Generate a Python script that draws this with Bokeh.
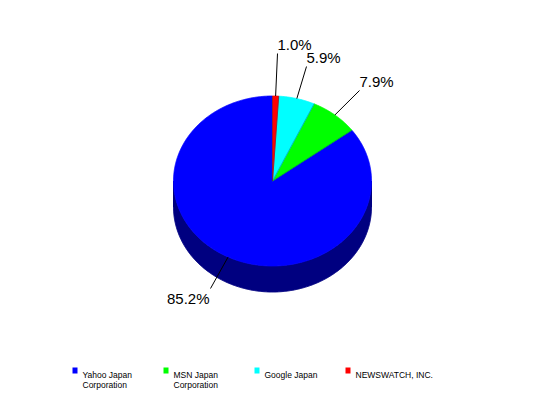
import math

from bokeh.core.properties import value
from bokeh.embed import file_html
from bokeh.models import Range1d
from bokeh.plotting import figure
from bokeh.resources import INLINE

# Market share of Japanese web portals (percent)
companies = ["Yahoo Japan\nCorporation", "MSN Japan\nCorporation", "Google Japan", "NEWSWATCH, INC."]
shares = [85.2, 7.9, 5.9, 1.0]
top_colors = ["#0000FF", "#00FF00", "#00FFFF", "#FF0000"]
side_colors = ["#000080", "#008000", "#008080", "#800000"]

# Geometry of the tilted pie (pixel space, y grows downward)
CX, CY = 272.0, 180.5
RX, RY = 99.0, 85.0
DEPTH = 26.0

# End points of the leader lines, one per slice
leader_ends = [(210, 288), (359, 90), (306, 66), (277, 53)]

W, H = 548, 398
p = figure(width=W, height=H, x_range=Range1d(0, W), y_range=Range1d(H, 0),
           toolbar_location=None, output_backend="svg", min_border=0)
p.axis.visible = False
p.grid.visible = False
p.outline_line_color = None
p.background_fill_color = "white"
p.border_fill_color = "white"


def pt(t, dy=0.0):
    # t: angle in degrees, measured counterclockwise from 12 o'clock
    r = math.radians(t)
    return CX - RX * math.sin(r), CY - RY * math.cos(r) + dy


total = sum(shares)
bounds = []
acc = 0.0
for s in shares:
    a0 = acc / total * 360.0
    acc += s
    a1 = acc / total * 360.0
    bounds.append((a0, a1))

# Side walls: only the front half (90..270 degrees) is visible
side_xs, side_ys, side_c = [], [], []
for (a0, a1), c in zip(bounds, side_colors):
    lo, hi = max(a0, 90.0), min(a1, 270.0)
    if hi <= lo:
        continue
    n = max(4, int((hi - lo) * 2))
    ts = [lo + (hi - lo) * k / n for k in range(n + 1)]
    top = [pt(t) for t in ts]
    bot = [pt(t, DEPTH) for t in reversed(ts)]
    poly = top + bot
    side_xs.append([q[0] for q in poly])
    side_ys.append([q[1] for q in poly])
    side_c.append(c)
p.patches(side_xs, side_ys, fill_color=side_c, line_color=side_c, line_width=1)

# Top faces
top_xs, top_ys = [], []
for a0, a1 in bounds:
    n = max(4, int((a1 - a0) * 2))
    ts = [a0 + (a1 - a0) * k / n for k in range(n + 1)]
    poly = [(CX, CY)] + [pt(t) for t in ts]
    top_xs.append([q[0] for q in poly])
    top_ys.append([q[1] for q in poly])
p.patches(top_xs, top_ys, fill_color=top_colors, line_color=top_colors, line_width=0.8)

# Radial separators between slices
for a0, _ in bounds:
    x, y = pt(a0)
    p.line([CX, x], [CY, y], line_color="#004060", line_width=0.6, line_alpha=0.6)

# Leader lines and percentage labels
for (a0, a1), s, (ex, ey) in zip(bounds, shares, leader_ends):
    sx, sy = pt((a0 + a1) / 2.0)
    p.line([sx, ex], [sy, ey], line_color="black", line_width=1)
    left = ex < CX
    p.text(x=[ex - 1 if left else ex], y=[ey + 1 if left else ey - 1],
           text=[f"{s:.1f}%"],
           text_align="right" if left else "left",
           text_baseline="top" if left else "bottom",
           text_font=value("Liberation Sans"), text_font_size="15px",
           text_color="black")

# Legend row
for i, (name, c) in enumerate(zip(companies, top_colors)):
    x0 = 72 + 91 * i
    p.quad(left=[x0], right=[x0 + 5], top=[367], bottom=[373],
           fill_color=c, line_color=None)
    for j, line in enumerate(name.split("\n")):
        p.text(x=[x0 + 10], y=[374.5 + 10 * j], text=[line],
               text_align="left", text_baseline="alphabetic",
               text_font=value("Liberation Sans"), text_font_size="8.5px",
               text_color="black")

open("out.html", "w").write(file_html(p, INLINE))
